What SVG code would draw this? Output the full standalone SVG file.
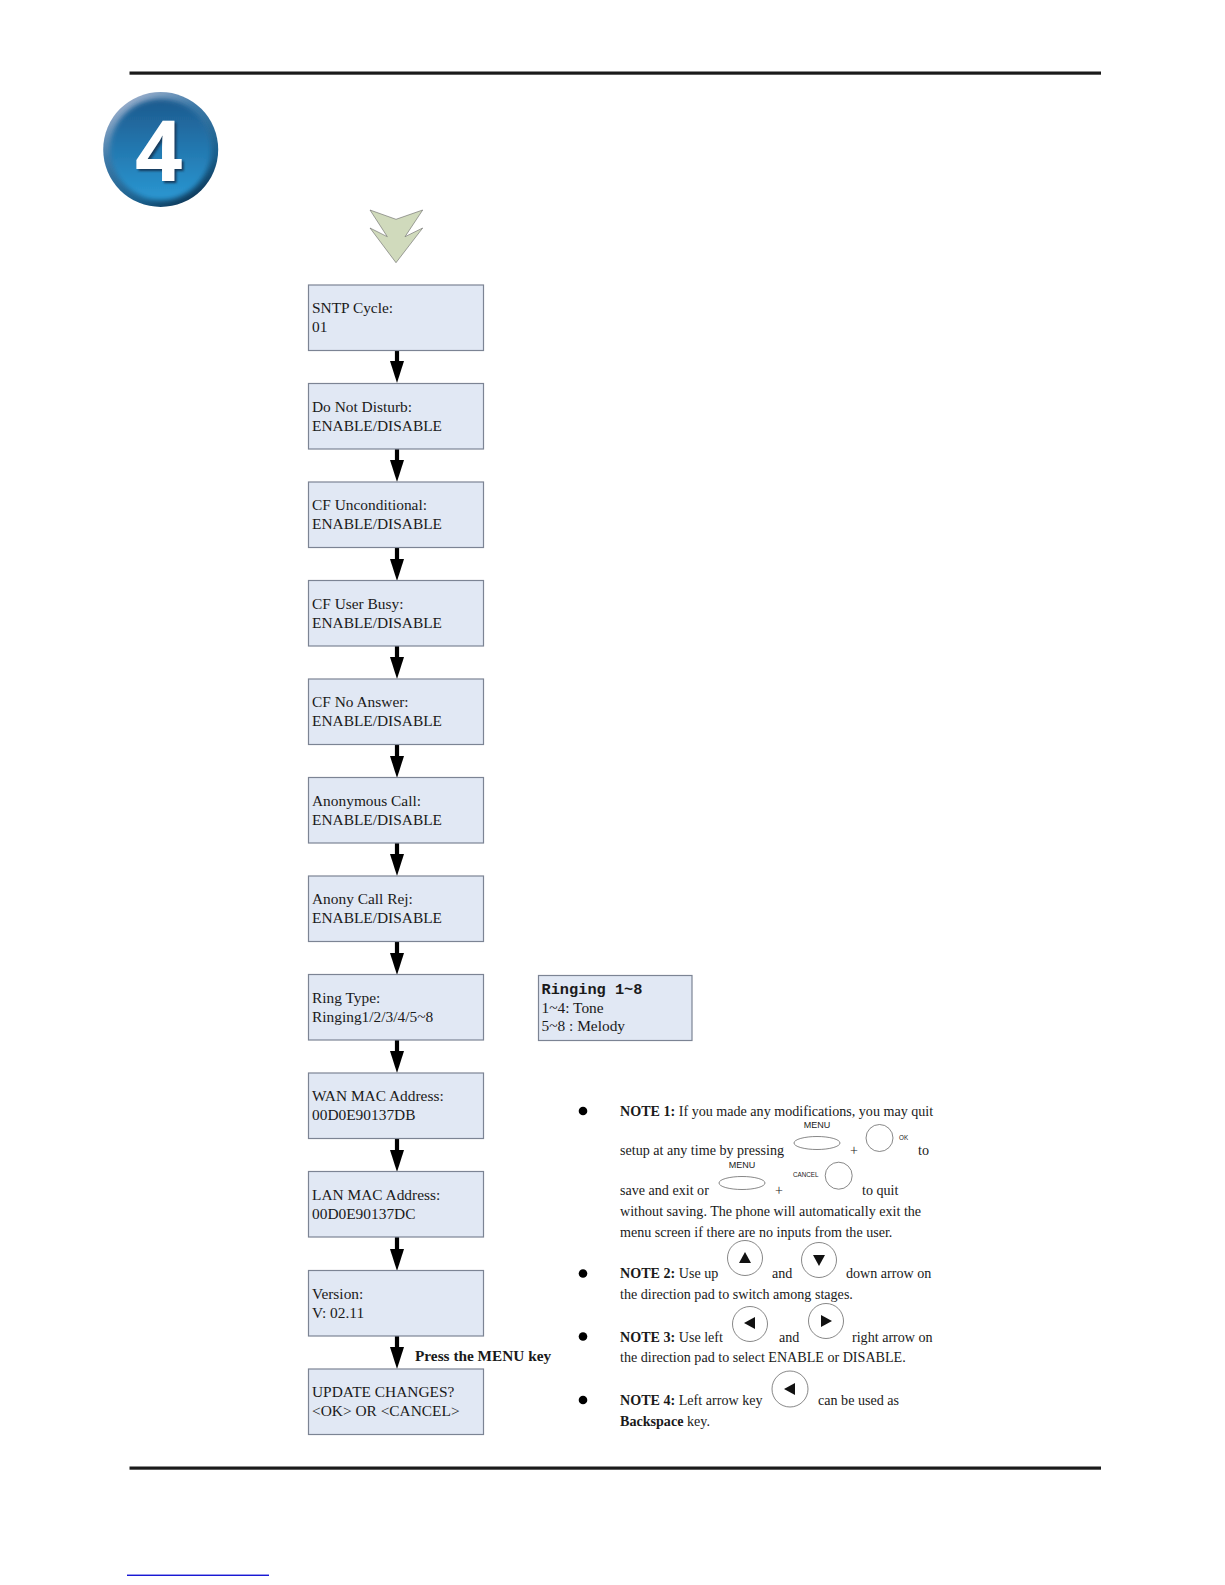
<svg xmlns="http://www.w3.org/2000/svg" width="1225" height="1585" viewBox="0 0 1225 1585">
<style>
text{font-family:"Liberation Serif","Times New Roman",serif;fill:#1a1a1a}
.b rect{fill:#e1e8f4;stroke:#7c8494;stroke-width:1.2}
.b text{font-size:15.4px}
.n{font-size:14.1px}
.h{font-weight:bold}
.s{font-family:"Liberation Sans",Arial,sans-serif}
.k{fill:none;stroke:#555;stroke-width:.7}
.t{fill:#111}
</style>
<defs>
<marker id="ah" markerUnits="userSpaceOnUse" markerWidth="22" markerHeight="14" refX="10" refY="7" orient="auto" viewBox="0 0 22 14"><path d="M0 0L22 7L0 14z" fill="#000"/></marker>
<linearGradient id="bevel" x1=".2" y1="0" x2=".8" y2="1"><stop offset="0" stop-color="#aab8d2"/><stop offset=".35" stop-color="#3f7aa8"/><stop offset=".75" stop-color="#1a5f8c"/><stop offset="1" stop-color="#0c2f4c"/></linearGradient>
<linearGradient id="face" x1="0" y1="0" x2="0" y2="1"><stop offset="0" stop-color="#1d5a8e"/><stop offset="1" stop-color="#2a97d2"/></linearGradient>
<filter id="soft" x="-20%" y="-20%" width="140%" height="140%"><feGaussianBlur stdDeviation="2.5"/></filter>
<filter id="sh" x="-20%" y="-20%" width="140%" height="140%"><feGaussianBlur stdDeviation="1"/></filter>
</defs>
<rect width="1225" height="1585" fill="#fff"/>
<rect x="129.5" y="71.5" width="971.5" height="3.2" fill="#1a1a1a"/>
<rect x="129.5" y="1466.5" width="971.5" height="3.2" fill="#1a1a1a"/>
<rect x="127" y="1574.6" width="142" height="1.3" fill="#0000d0"/>
<g id="badge">
<circle cx="160.7" cy="149.5" r="57.5" fill="url(#bevel)"/>
<circle cx="160.7" cy="149.5" r="50.5" fill="url(#face)" filter="url(#soft)"/>
<text x="161" y="182.5" text-anchor="middle" style="font-family:'Open Sans',sans-serif;font-weight:bold;font-size:84px;fill:#123a5c" filter="url(#sh)">4</text>
<text x="159" y="180.5" text-anchor="middle" style="font-family:'Open Sans',sans-serif;font-weight:bold;font-size:84px;fill:#fff">4</text>
</g>
<polygon id="start-arrow" points="370,210 396,219.3 422.7,210 405,236.7 422.7,228 396,262.7 370,228 387.3,236.7" fill="#d0dabc" stroke="#666" stroke-width=".6"/>
<g id="connectors" stroke="#000" stroke-width="4.2" fill="none">
<line x1="397" y1="349" x2="397" y2="371" marker-end="url(#ah)"/>
<line x1="397" y1="448" x2="397" y2="470" marker-end="url(#ah)"/>
<line x1="397" y1="546" x2="397" y2="569" marker-end="url(#ah)"/>
<line x1="397" y1="645" x2="397" y2="667" marker-end="url(#ah)"/>
<line x1="397" y1="744" x2="397" y2="766" marker-end="url(#ah)"/>
<line x1="397" y1="842" x2="397" y2="864" marker-end="url(#ah)"/>
<line x1="397" y1="941" x2="397" y2="963" marker-end="url(#ah)"/>
<line x1="397" y1="1039" x2="397" y2="1061" marker-end="url(#ah)"/>
<line x1="397" y1="1138" x2="397" y2="1160" marker-end="url(#ah)"/>
<line x1="397" y1="1236" x2="397" y2="1259" marker-end="url(#ah)"/>
<line x1="397" y1="1335" x2="397" y2="1357" marker-end="url(#ah)"/>
</g>
<g class="b" id="n1"><rect x="308.5" y="285" width="175" height="65.5"/><text x="312" y="313">SNTP Cycle:</text><text x="312" y="332">01</text></g>
<g class="b" id="n2"><rect x="308.5" y="383.5" width="175" height="65.5"/><text x="312" y="411.5">Do Not Disturb:</text><text x="312" y="430.5">ENABLE/DISABLE</text></g>
<g class="b" id="n3"><rect x="308.5" y="482" width="175" height="65.5"/><text x="312" y="510">CF Unconditional:</text><text x="312" y="529">ENABLE/DISABLE</text></g>
<g class="b" id="n4"><rect x="308.5" y="580.5" width="175" height="65.5"/><text x="312" y="608.5">CF User Busy:</text><text x="312" y="627.5">ENABLE/DISABLE</text></g>
<g class="b" id="n5"><rect x="308.5" y="679" width="175" height="65.5"/><text x="312" y="707">CF No Answer:</text><text x="312" y="726">ENABLE/DISABLE</text></g>
<g class="b" id="n6"><rect x="308.5" y="777.5" width="175" height="65.5"/><text x="312" y="805.5">Anonymous Call:</text><text x="312" y="824.5">ENABLE/DISABLE</text></g>
<g class="b" id="n7"><rect x="308.5" y="876" width="175" height="65.5"/><text x="312" y="904">Anony Call Rej:</text><text x="312" y="923">ENABLE/DISABLE</text></g>
<g class="b" id="n8"><rect x="308.5" y="974.5" width="175" height="65.5"/><text x="312" y="1002.5">Ring Type:</text><text x="312" y="1021.5">Ringing1/2/3/4/5~8</text></g>
<g class="b" id="n9"><rect x="308.5" y="1073" width="175" height="65.5"/><text x="312" y="1101">WAN MAC Address:</text><text x="312" y="1120">00D0E90137DB</text></g>
<g class="b" id="n10"><rect x="308.5" y="1171.5" width="175" height="65.5"/><text x="312" y="1199.5">LAN MAC Address:</text><text x="312" y="1218.5">00D0E90137DC</text></g>
<g class="b" id="n11"><rect x="308.5" y="1270.5" width="175" height="65.5"/><text x="312" y="1298.5">Version:</text><text x="312" y="1317.5">V: 02.11</text></g>
<g class="b" id="n12"><rect x="308.5" y="1369" width="175" height="65.5"/><text x="312" y="1397">UPDATE CHANGES?</text><text x="312" y="1416">&lt;OK&gt; OR &lt;CANCEL&gt;</text></g>
<text class="h" x="415" y="1360.5" style="font-size:15.3px">Press the MENU key</text>
<g class="b" id="ring-note"><rect x="538.5" y="975.5" width="153.5" height="65"/><text x="541.5" y="994" style="font-family:'Liberation Mono',monospace;font-weight:bold;font-size:15.3px">Ringing 1~8</text><text x="541.5" y="1012.5">1~4: Tone</text><text x="541.5" y="1031">5~8 : Melody</text></g>
<g id="notes">
<circle cx="583" cy="1111" r="4.3"/><circle cx="583" cy="1273.5" r="4.3"/><circle cx="583" cy="1336.5" r="4.3"/><circle cx="583" cy="1400" r="4.3"/>
<text class="n" x="620" y="1116"><tspan class="h">NOTE 1:</tspan> If you made any modifications, you may quit</text>
<text class="n" x="620" y="1155">setup at any time by pressing</text>
<text class="s" x="817" y="1128" text-anchor="middle" style="font-size:9px">MENU</text>
<ellipse class="k" cx="817" cy="1143" rx="23" ry="6.5"/>
<text class="n" x="854" y="1155" text-anchor="middle">+</text>
<circle class="k" cx="879.5" cy="1138" r="13.5"/>
<text class="s" x="899" y="1140" style="font-size:6.3px">OK</text>
<text class="n" x="918" y="1155">to</text>
<text class="n" x="620" y="1195">save and exit or</text>
<text class="s" x="742" y="1168" text-anchor="middle" style="font-size:9px">MENU</text>
<ellipse class="k" cx="742" cy="1183" rx="23" ry="6.5"/>
<text class="n" x="779" y="1195" text-anchor="middle">+</text>
<text class="s" x="793" y="1177" style="font-size:6.3px">CANCEL</text>
<circle class="k" cx="838.7" cy="1175.7" r="13.5"/>
<text class="n" x="862" y="1195">to quit</text>
<text class="n" x="620" y="1216">without saving. The phone will automatically exit the</text>
<text class="n" x="620" y="1237">menu screen if there are no inputs from the user.</text>
<text class="n" x="620" y="1278"><tspan class="h">NOTE 2:</tspan> Use up</text>
<circle class="k" cx="745" cy="1258" r="17.5"/><polygon class="t" points="745,1252 751,1263 739,1263"/>
<text class="n" x="772" y="1278">and</text>
<circle class="k" cx="819" cy="1260" r="17.5"/><polygon class="t" points="813,1255 825,1255 819,1266"/>
<text class="n" x="846" y="1278">down arrow on</text>
<text class="n" x="620" y="1299">the direction pad to switch among stages.</text>
<text class="n" x="620" y="1342"><tspan class="h">NOTE 3:</tspan> Use left</text>
<circle class="k" cx="750" cy="1324" r="17.5"/><polygon class="t" points="744,1323 755,1317 755,1329"/>
<text class="n" x="779" y="1342">and</text>
<circle class="k" cx="826" cy="1321" r="17.5"/><polygon class="t" points="832,1321 821,1315 821,1327"/>
<text class="n" x="852" y="1342">right arrow on</text>
<text class="n" x="620" y="1362">the direction pad to select ENABLE or DISABLE.</text>
<text class="n" x="620" y="1405"><tspan class="h">NOTE 4:</tspan> Left arrow key</text>
<circle class="k" cx="790" cy="1389" r="18"/><polygon class="t" points="784,1389 795,1383 795,1395"/>
<text class="n" x="818" y="1405">can be used as</text>
<text class="n" x="620" y="1426"><tspan class="h">Backspace</tspan> key.</text>
</g>
</svg>
